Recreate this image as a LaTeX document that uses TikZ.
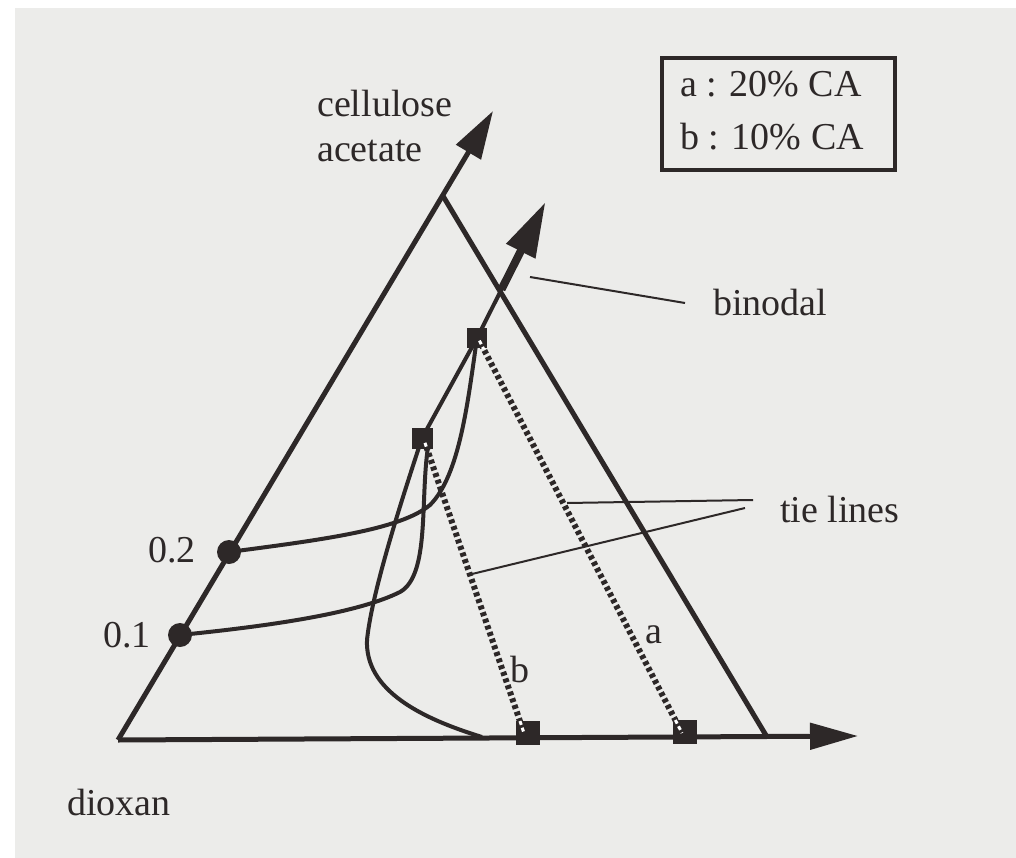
\documentclass[tikz,border=0pt]{standalone}
\usepackage{fontspec}
\setmainfont{Liberation Serif}
\usetikzlibrary{arrows.meta,calc}
\definecolor{ink}{RGB}{45,40,40}
\definecolor{paper}{RGB}{236,236,234}
\begin{document}
\begin{tikzpicture}[x=1pt,y=-1pt,
 lbl/.style={font=\fontsize{38}{44}\selectfont, text=ink, inner sep=0pt},
 axis/.style={draw=ink, line width=5pt},
 crv/.style={draw=ink, line width=4pt},
 lead/.style={draw=ink, line width=2pt},
 tie/.style={draw=ink, line width=6pt, dash pattern=on 4pt off 3pt},
 tiew/.style={draw=white, line width=3pt, dash pattern=on 4pt off 3pt, dash phase=4pt},
 sq/.style={fill=ink, draw=none, minimum size=#1, inner sep=0pt, rectangle},
 sq/.default=20pt,
 dot/.style={circle, fill=ink, minimum size=24pt, inner sep=0pt}
]
\fill[white] (0,0) rectangle (1016,858);
\fill[paper] (15,8) rectangle (1016,858);
\useasboundingbox (0,0) rectangle (1016,858);

% axes / triangle
\coordinate (O) at (118,740);
\coordinate (T) at (443,196);
\coordinate (CAtip) at (493,111);
\coordinate (R) at (767,737);
\coordinate (Xtip) at (858,736);
\draw[axis, -{Triangle[length=48pt,width=28pt]}] (O) -- (CAtip);
\draw[axis] (T) -- (R);
\draw[axis, -{Triangle[length=48pt,width=26pt]}] (O) -- (Xtip);

% binodal
\coordinate (Bbot) at (482,737);
\coordinate (Bmid) at (367,640);
\coordinate (Bsq) at (422,438);
\coordinate (Asq) at (477,338);
\coordinate (Btip) at (545,203);
\draw[crv] (Bbot) .. controls (420,718) and (365,690) .. (Bmid) .. controls (372,590) and (405,490) .. (Bsq) -- (Asq);
\draw[crv, -{Triangle[length=54pt,width=32pt]}] (Asq) -- (Btip);
\draw[draw=ink, line width=8pt] ($(Asq)!0.36!(Btip)$) -- ($(Asq)!0.7!(Btip)$);

% curves from 0.2 and 0.1
\coordinate (d2p) at (229,552);
\coordinate (d1p) at (180,635);
\coordinate (Bsqlow) at (428,447);
\draw[crv] (d2p) .. controls (320,540) and (400,530) .. (430,505) .. controls (460,475) and (468,400) .. (Asq);
\draw[crv] (d1p) .. controls (280,625) and (360,612) .. (400,592) .. controls (430,575) and (420,500) .. (Bsqlow);
\node[dot] (d2) at (d2p) {};
\node[dot] (d1) at (d1p) {};

% tie lines
\coordinate (a1) at (478,338);
\coordinate (a2) at (682,733);
\coordinate (b1) at (424,440);
\coordinate (b2) at (524,733);
\draw[tie] (a1) -- (a2);
\draw[tie] (b1) -- (b2);
\node[sq=20pt] (sqA1) at (477,338) {};
\node[sq=21pt] (sqB1) at (422,438) {};
\node[sq=24pt] (sqB2) at (528,733) {};
\node[sq=24pt] (sqA2) at (685,732) {};
\begin{scope}
\clip (sqA1.south west) rectangle (sqA1.north east);
\draw[tiew] (a1) -- (a2);
\end{scope}
\begin{scope}
\clip (sqA2.south west) rectangle (sqA2.north east);
\draw[tiew] (a1) -- (a2);
\end{scope}
\begin{scope}
\clip (sqB1.south west) rectangle (sqB1.north east);
\draw[tiew] (b1) -- (b2);
\end{scope}
\begin{scope}
\clip (sqB2.south west) rectangle (sqB2.north east);
\draw[tiew] (b1) -- (b2);
\end{scope}

% labels
\node[lbl, anchor=base west] (cell) at (317,117) {cellulose};
\node[lbl, anchor=base west] (acet) at (317,162) {acetate};
\node[lbl, anchor=base west] (l02) at (148,562) {0.2};
\node[lbl, anchor=base west] (l01) at (103,647) {0.1};
\node[lbl, anchor=base west] (diox) at (67,815) {dioxan};
\node[lbl, anchor=base west] (lb) at (510,682) {b};
\node[lbl, anchor=base west] (la) at (645,643) {a};

% leaders
\node[lbl, anchor=base west] (binodal) at (713,315) {binodal};
\coordinate (bl0) at (530,277);
\coordinate (bl1) at (685,303);
\draw[lead] (bl0) -- (bl1);
\node[lbl, anchor=base west] (tielbl) at (780,522) {tie lines};
\coordinate (ta0) at (567,503);
\coordinate (ta1) at (753,500);
\coordinate (tb0) at (472,574);
\coordinate (tb1) at (745,508);
\draw[lead] (ta0) -- (ta1);
\draw[lead] (tb0) -- (tb1);

% legend
\node[draw=ink, line width=4pt, minimum width=233pt, minimum height=112pt, inner sep=0pt] (legend) at (778.5,114) {};
\node[lbl, anchor=base west] (lg1) at (680,97) {a : 20\% CA};
\node[lbl, anchor=base west] (lg2) at (680,150) {b : 10\% CA};
\end{tikzpicture}
\end{document}
